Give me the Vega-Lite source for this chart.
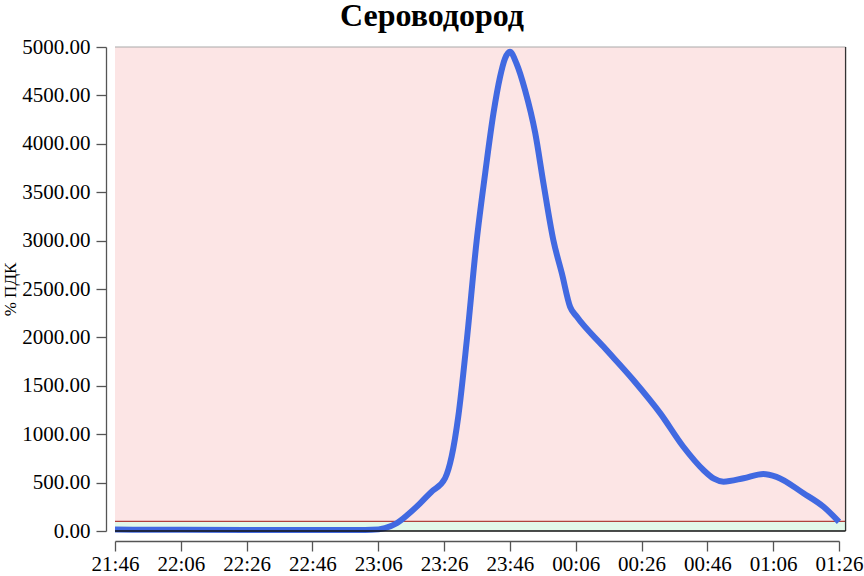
{
  "$schema": "https://vega.github.io/schema/vega-lite/v6.json",
  "autosize": {"type": "none"},
  "width": 724,
  "height": 484,
  "padding": {"left": 115, "top": 47, "right": 25, "bottom": 45},
  "background": "white",
  "config": {
    "view": {"stroke": null},
    "font": "Liberation Serif",
    "axis": {
      "labelFont": "Liberation Serif",
      "labelFontSize": 21,
      "labelColor": "black",
      "titleFont": "Liberation Serif",
      "titleColor": "black",
      "tickColor": "#555555",
      "domainColor": "#555555",
      "tickSize": 10,
      "tickWidth": 1.3,
      "domainWidth": 1.3,
      "grid": false,
      "labelOverlap": false,
      "labelFlush": false
    }
  },
  "title": {
    "text": "Сероводород",
    "font": "Liberation Serif",
    "fontSize": 32,
    "fontWeight": "bold",
    "color": "black",
    "anchor": "middle",
    "dx": -45,
    "offset": 3
  },
  "layer": [
    {
      "data": {"values": [
        {"band": "high", "lo": 100, "hi": 5000, "t0": "2024-01-01T21:46:00", "t1": "2024-01-02T01:28:00"}
      ]},
      "mark": {"type": "rect", "color": "#FCE5E5"},
      "encoding": {
        "x": {"field": "t0", "type": "temporal"},
        "x2": {"field": "t1"},
        "y": {"field": "lo", "type": "quantitative"},
        "y2": {"field": "hi"}
      }
    },
    {
      "data": {"values": [
        {"band": "low", "lo": 0, "hi": 100, "t0": "2024-01-01T21:46:00", "t1": "2024-01-02T01:28:00"}
      ]},
      "mark": {"type": "rect", "color": "#E2F8EA"},
      "encoding": {
        "x": {"field": "t0", "type": "temporal"},
        "x2": {"field": "t1"},
        "y": {"field": "lo", "type": "quantitative"},
        "y2": {"field": "hi"}
      }
    },
    {
      "data": {"values": [
        {"v": 100, "t0": "2024-01-01T21:46:00", "t1": "2024-01-02T01:28:00"}
      ]},
      "mark": {"type": "rule", "color": "#B0413E", "strokeWidth": 1.2},
      "encoding": {
        "x": {"field": "t0", "type": "temporal"},
        "x2": {"field": "t1"},
        "y": {"field": "v", "type": "quantitative"}
      }
    },
    {
      "data": {"values": [
        {"v": 5000, "t0": "2024-01-01T21:46:00", "t1": "2024-01-02T01:28:00"}
      ]},
      "mark": {"type": "rule", "color": "#AAAAAA", "strokeWidth": 1.2},
      "encoding": {
        "x": {"field": "t0", "type": "temporal"},
        "x2": {"field": "t1"},
        "y": {"field": "v", "type": "quantitative"}
      }
    },
    {
      "data": {"values": [
        {"t": "2024-01-02T01:28:00", "lo": 0, "hi": 5000}
      ]},
      "mark": {"type": "rule", "color": "#333333", "strokeWidth": 1.3},
      "encoding": {
        "x": {"field": "t", "type": "temporal"},
        "y": {"field": "lo", "type": "quantitative"},
        "y2": {"field": "hi"}
      }
    },
    {
      "data": {"values": [
        {"t": "2024-01-01T21:46:00", "v": 15},
        {"t": "2024-01-01T21:56:00", "v": 13},
        {"t": "2024-01-01T22:06:00", "v": 12},
        {"t": "2024-01-01T22:26:00", "v": 10},
        {"t": "2024-01-01T22:46:00", "v": 10},
        {"t": "2024-01-01T23:00:00", "v": 10},
        {"t": "2024-01-01T23:04:00", "v": 12},
        {"t": "2024-01-01T23:08:00", "v": 30},
        {"t": "2024-01-01T23:11:36", "v": 80},
        {"t": "2024-01-01T23:15:00", "v": 170},
        {"t": "2024-01-01T23:18:42", "v": 286},
        {"t": "2024-01-01T23:22:00", "v": 400},
        {"t": "2024-01-01T23:26:18", "v": 545},
        {"t": "2024-01-01T23:28:18", "v": 770},
        {"t": "2024-01-01T23:30:18", "v": 1180},
        {"t": "2024-01-01T23:32:54", "v": 1970},
        {"t": "2024-01-01T23:35:54", "v": 3000},
        {"t": "2024-01-01T23:38:30", "v": 3700},
        {"t": "2024-01-01T23:41:00", "v": 4315},
        {"t": "2024-01-01T23:43:00", "v": 4690},
        {"t": "2024-01-01T23:44:30", "v": 4880},
        {"t": "2024-01-01T23:46:00", "v": 4950},
        {"t": "2024-01-01T23:48:00", "v": 4830},
        {"t": "2024-01-01T23:50:36", "v": 4555},
        {"t": "2024-01-01T23:53:42", "v": 4110},
        {"t": "2024-01-01T23:56:12", "v": 3590},
        {"t": "2024-01-01T23:59:12", "v": 3005},
        {"t": "2024-01-02T00:01:48", "v": 2660},
        {"t": "2024-01-02T00:04:18", "v": 2315},
        {"t": "2024-01-02T00:06:18", "v": 2215},
        {"t": "2024-01-02T00:14:24", "v": 1905},
        {"t": "2024-01-02T00:23:30", "v": 1560},
        {"t": "2024-01-02T00:31:42", "v": 1215},
        {"t": "2024-01-02T00:38:42", "v": 870},
        {"t": "2024-01-02T00:44:48", "v": 630},
        {"t": "2024-01-02T00:48:00", "v": 540},
        {"t": "2024-01-02T00:50:54", "v": 510},
        {"t": "2024-01-02T00:57:00", "v": 545},
        {"t": "2024-01-02T01:03:00", "v": 590},
        {"t": "2024-01-02T01:07:00", "v": 560},
        {"t": "2024-01-02T01:15:12", "v": 390},
        {"t": "2024-01-02T01:21:18", "v": 250},
        {"t": "2024-01-02T01:26:00", "v": 95}
      ]},
      "mark": {"type": "line", "color": "#4169E1", "strokeWidth": 6, "interpolate": "monotone", "strokeCap": "butt"},
      "encoding": {
        "x": {
          "field": "t",
          "type": "temporal",
          "scale": {"domain": [
            {"year": 2024, "month": 1, "date": 1, "hours": 21, "minutes": 46},
            {"year": 2024, "month": 1, "date": 2, "hours": 1, "minutes": 26}
          ]},
          "axis": {
            "title": null,
            "format": "%H:%M",
            "offset": 10,
            "labelPadding": 2,
            "values": [
              {"year": 2024, "month": 1, "date": 1, "hours": 21, "minutes": 46},
              {"year": 2024, "month": 1, "date": 1, "hours": 22, "minutes": 6},
              {"year": 2024, "month": 1, "date": 1, "hours": 22, "minutes": 26},
              {"year": 2024, "month": 1, "date": 1, "hours": 22, "minutes": 46},
              {"year": 2024, "month": 1, "date": 1, "hours": 23, "minutes": 6},
              {"year": 2024, "month": 1, "date": 1, "hours": 23, "minutes": 26},
              {"year": 2024, "month": 1, "date": 1, "hours": 23, "minutes": 46},
              {"year": 2024, "month": 1, "date": 2, "hours": 0, "minutes": 6},
              {"year": 2024, "month": 1, "date": 2, "hours": 0, "minutes": 26},
              {"year": 2024, "month": 1, "date": 2, "hours": 0, "minutes": 46},
              {"year": 2024, "month": 1, "date": 2, "hours": 1, "minutes": 6},
              {"year": 2024, "month": 1, "date": 2, "hours": 1, "minutes": 26}
            ]
          }
        },
        "y": {
          "field": "v",
          "type": "quantitative",
          "scale": {"domain": [0, 5000], "nice": false, "zero": false},
          "axis": {
            "title": "% ПДК",
            "titleFontSize": 17,
            "titleFontWeight": "normal",
            "titlePadding": 2,
            "format": ".2f",
            "offset": 9,
            "labelPadding": 6,
            "values": [0, 500, 1000, 1500, 2000, 2500, 3000, 3500, 4000, 4500, 5000]
          }
        }
      }
    },
    {
      "data": {"values": [
        {"v": 0, "t0": "2024-01-01T21:46:00", "t1": "2024-01-02T01:28:00"}
      ]},
      "mark": {"type": "rule", "color": "#111111", "strokeWidth": 1.5},
      "encoding": {
        "x": {"field": "t0", "type": "temporal"},
        "x2": {"field": "t1"},
        "y": {"field": "v", "type": "quantitative"}
      }
    }
  ]
}
